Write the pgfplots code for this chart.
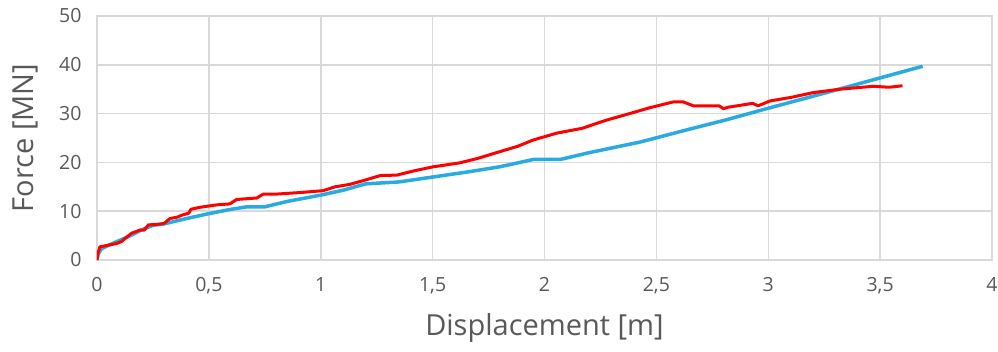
\documentclass[border=0pt]{standalone}
\usepackage{pgfplots}
\pgfplotsset{compat=1.18}
\usepackage{fontspec}
\setmainfont{Open Sans}
\definecolor{myblue}{RGB}{41,171,226}
\definecolor{gridgray}{RGB}{217,217,217}
\definecolor{txtgray}{RGB}{89,89,89}
\begin{document}
\begin{tikzpicture}
\useasboundingbox (-97pt,-91pt) rectangle (901pt,260pt);
\begin{axis}[
  scale only axis, width=895pt, height=244pt,
  xmin=0, xmax=4, ymin=0, ymax=50,
  xtick={0,0.5,1,1.5,2,2.5,3,3.5,4},
  xticklabels={0,{0,5},1,{1,5},2,{2,5},3,{3,5},4},
  ytick={0,10,20,30,40,50},
  grid=major,
  major grid style={gridgray, line width=1.5pt},
  axis line style={gridgray, line width=1.5pt},
  major tick length=0pt,
  /pgf/number format/assume math mode=true,
  tick label style={font=\fontsize{19.5}{23}\selectfont, text=txtgray},
  xticklabel style={yshift=-14pt},
  yticklabel style={xshift=-12pt},
  label style={font=\fontsize{29}{34}\selectfont, text=txtgray},
  xlabel={Displacement [m]},
  ylabel={Force [MN]},
  xlabel style={at={([yshift=-68pt]axis description cs:0.5,0)}, anchor=center},
  ylabel style={at={([xshift=-72pt]axis description cs:0,0.5)}, anchor=center},
]
\addplot[myblue, line width=3.5pt, line join=round] coordinates {
(0,0) (0.005,1.2) (0.02,2.3) (0.05,3.0) (0.1,4.0) (0.15,5.0) (0.2,6.2) (0.25,7.1) (0.3,7.4) (0.4,8.5) (0.5,9.5) (0.6,10.4) (0.67,10.9) (0.75,10.9) (0.85,12.0) (1.0,13.3) (1.1,14.3) (1.2,15.6) (1.35,16.0) (1.5,17.0) (1.65,18.0) (1.8,19.1) (1.95,20.6) (2.07,20.6) (2.2,22.0) (2.43,24.2) (2.63,26.6) (2.81,28.7) (3.0,31.1) (3.26,34.3) (3.69,39.7)
};
\addplot[red, line width=3pt, line join=round] coordinates {
(0,0) (0.005,1.5) (0.013,2.7) (0.058,3.1) (0.088,3.4) (0.11,3.8) (0.125,4.4) (0.155,5.5) (0.19,6.1) (0.21,6.1) (0.23,7.2) (0.27,7.3) (0.30,7.5) (0.326,8.5) (0.36,8.8) (0.38,9.2) (0.41,9.6) (0.42,10.4) (0.46,10.8) (0.535,11.3) (0.594,11.5) (0.624,12.4) (0.68,12.6) (0.714,12.7) (0.743,13.5) (0.80,13.5) (0.9,13.8) (1.01,14.2) (1.064,15.0) (1.13,15.5) (1.2,16.4) (1.265,17.3) (1.34,17.4) (1.42,18.3) (1.503,19.1) (1.62,19.9) (1.7,20.8) (1.80,22.2) (1.88,23.3) (1.95,24.6) (2.055,26.0) (2.17,27.0) (2.22,27.8) (2.28,28.7) (2.38,30.0) (2.47,31.2) (2.576,32.4) (2.62,32.4) (2.665,31.6) (2.78,31.6) (2.80,31.0) (2.82,31.3) (2.93,32.1) (2.955,31.6) (3.008,32.6) (3.1,33.3) (3.20,34.3) (3.32,35.0) (3.47,35.6) (3.54,35.4) (3.60,35.7)
};
\end{axis}
\end{tikzpicture}
\end{document}
